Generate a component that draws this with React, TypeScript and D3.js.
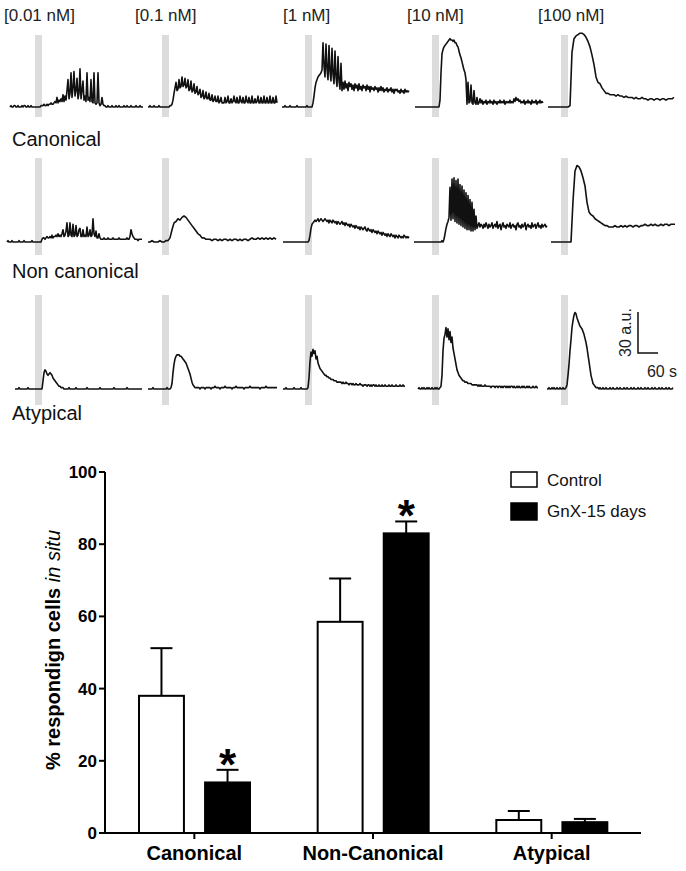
import * as d3 from "d3";

// ---- top panel: Ca2+ traces, 3 response classes x 5 concentrations ----
const concentrations = ["[0.01 nM]", "[0.1 nM]", "[1 nM]", "[10 nM]", "[100 nM]"];
const traceClasses = ["Canonical", "Non canonical", "Atypical"];
const stimulusWindow = [0, 21]; // s, application (gray bar)
const scaleAmplitude = 30; // a.u.
const scaleTime = 60; // s

// fluorescence (a.u.) sampled every traceSteps s, starting at traceStarts s
const canonical001 = [
  0, 1, 0, 0, 1, 1, 0, 0, 1, 0, 0, 0, 1, 0, 1, 1, 0, 0, 1, 0, 0, 1, 0, 0, 0,
  0, 0, 0, 0, 0, 0, 1, 1, 1, 2, 1, 1, 2, 1, 2, 2, 3, 2, 2, 3,
  4, 3, 7, 3, 5, 4, 6, 4, 9, 4, 8, 5, 12, 20, 6, 10, 25, 7, 14, 26, 8, 12, 21, 6, 10, 28, 6, 12, 19, 5, 8, 4, 25, 5, 7, 4, 20, 4, 3, 25, 3, 2, 3, 25, 3, 1, 2, 7, 2, 1,
  1, 0, 0, 1, 0, 0, 0, 1, 0, 0, 0, 1, 0, 0, 1, 0, 0, 0, 0, 1, 0, 0, 1, 0, 0, 0, 1, 0, 0, 0, 0, 1, 0, 0, 0, 1, 0, 0, 0,
];
const canonical01 = [
  0, 0, 1, 0, 0, 0, 1, 0, 0, 0, 0, 1, 0, 0, 0, 0, 0, 0, 0, 0, 0, 0, 1, 1, 2,
  5, 10, 14, 18, 12, 13, 20, 14, 15, 22, 15, 16, 21, 14, 15, 20, 12, 13, 19, 11, 12, 17, 10, 11, 15,
  9, 10, 13, 7, 8, 12, 6, 7, 11, 6, 6, 10, 5, 5, 9, 4, 5, 8, 4, 4, 8, 3, 4, 7, 3,
  3, 3, 7, 3, 4, 8, 3, 3, 6, 3, 4, 8, 4, 3, 7, 3, 3, 8, 4, 3, 7, 3, 3, 8, 4, 3, 7, 3, 3, 8, 3, 3, 6, 3, 4, 8, 3, 3, 7, 3, 3, 8, 3, 3, 7, 3, 3, 8, 3, 3, 7, 3, 3, 8, 3,
];
const canonical1 = [
  0, 0, 0, 1, 0, 0, 0, 0, 1, 0, 0, 0, 0, 0, 0, 1, 0, 0, 0, 0, 0, 0, 0, 0, 0, 1, 0, 0, 0, 0, 0,
  3, 8, 14, 18, 20, 22, 23, 24, 25, 27,
  47, 30, 22, 46, 28, 20, 45, 26, 19, 43, 24, 17, 41, 22, 15, 37, 19, 13, 32, 12,
  18, 13, 19, 14, 17, 12, 18, 15, 17, 13, 16, 12, 17, 14, 16, 12, 17, 13, 15, 12, 16, 14, 15, 12, 16, 13, 15, 11, 15, 13,
  14, 12, 15, 13, 14, 11, 14, 12, 15, 12, 14, 11, 13, 12, 14, 11, 13, 12, 14, 11, 13, 10, 13, 12, 13, 11, 12, 10, 13, 11,
  12, 10, 13, 11, 12, 11, 12,
];
const canonical10 = [
  0, 0, 0, 0, 0, 0, 0, 0, 0, 0, 0, 0, 0, 0, 0, 0, 0, 0, 0, 0, 0, 0, 0, 0, 0,
  5, 25, 39, 42, 44, 45, 46, 47, 48, 49, 50, 49, 49,
  48, 49, 47, 47, 45, 44, 41, 38, 36, 33, 30, 27, 25, 20,
  2, 18, 3, 4, 16, 3, 2, 12, 3, 2, 7, 2, 3, 6,
  3, 5, 2, 4, 3, 5, 2, 4, 3, 5, 3, 4, 2, 5, 3, 4, 2, 4, 3, 5, 3, 4, 3, 5, 2, 4, 3, 4, 3, 5, 3, 4, 3, 6, 4, 7, 5, 6, 4, 5,
  3, 4, 3, 5, 2, 4, 3, 5, 3, 4, 2, 5, 3, 4, 3, 5, 2, 4, 3, 5, 3, 4, 3,
];
const canonical100 = [
  0, 0, 0, 0, 0, 0, 0, 0, 0, 0, 0, 1,
  40, 50, 52, 53, 54, 54, 53, 51, 48, 44, 38, 31, 22, 18, 17, 14, 12, 10, 10, 9, 9, 9, 8, 9, 8, 8, 7, 8, 7, 7,
  7, 6, 7, 6, 6, 7, 6, 6, 5, 6, 6, 5, 6, 6, 5, 6, 6, 5, 6, 6, 6, 7,
];
const nonCanonical001 = [
  0, 1, 0, 0, 0, 1, 0, 0, 0, 0, 0, 0, 1, 0, 0, 0, 0, 1, 0, 0, 0, 0, 0, 0, 0, 1, 0, 0, 0, 0, 0, 0, 0, 0, 0,
  2, 3, 3, 2, 3, 4, 3, 3, 4, 3, 5, 3, 4, 4, 5, 4, 6, 4, 5,
  4, 6, 9, 4, 5, 8, 14, 4, 5, 14, 5, 4, 13, 4, 5, 12, 4, 5, 9, 10, 4, 4, 9, 4, 5, 4, 11, 4, 5, 9, 4, 5, 17, 6, 4, 8, 3, 3, 6, 3, 2,
  2, 2, 3, 2, 2, 2, 3, 2, 2, 2, 2, 3, 2, 2, 2, 2, 2, 3, 2, 2, 2, 2, 2, 2, 2, 3, 2, 2, 4, 9, 6, 4, 3, 2, 2, 2, 1, 2, 2, 2, 2,
];
const nonCanonical01 = [
  0, 0, 1, 0, 0, 0, 1, 0, 0, 1, 1,
  3, 9, 14, 15, 17, 16, 18, 19, 18, 16, 14, 12, 10, 8, 6, 5, 3, 3, 2, 2, 2, 1, 2,
  2, 1, 2, 1, 2, 2, 1, 2, 1, 2, 2, 1, 2, 1, 2, 2, 1, 2, 3, 2, 2, 3, 2, 3, 2, 3, 2, 3, 2, 3, 2,
];
const nonCanonical1 = [
  0, 0, 0, 0, 0, 0, 0, 0, 0, 0, 0, 0, 0, 0, 0, 0, 0, 0, 0, 0, 0, 0, 0, 0, 0, 0, 1,
  5, 10, 13, 14, 15, 16, 15, 16, 17, 15, 16, 17, 16, 15, 16, 17,
  16, 15, 16, 14, 16, 15, 14, 16, 15, 14, 15, 13, 15, 14, 13, 14, 15, 13, 14, 12, 14, 13, 12, 13, 11, 13, 12, 11, 12, 10,
  12, 11, 10, 11, 9, 11, 10, 9, 10, 11, 9, 8, 10, 9, 8, 9, 7, 9, 8, 7, 8, 6, 8, 7, 6, 7, 5, 7, 6, 5,
  6, 4, 6, 5, 4, 6, 5, 4, 5, 3, 5, 4, 3, 5, 4, 3, 4, 3, 5, 4, 3, 4, 3, 4,
];
const nonCanonical10 = [
  0, 0, 0, 0, 0, 0, 0, 0, 0, 0, 0, 0, 0, 0, 0, 0, 0, 0, 0, 0, 0, 0, 0, 0, 0, 0, 0, 0,
  1, 0, 2, 6, 10, 13, 15, 18,
  40, 16, 46, 17, 47, 15, 45, 14, 46, 13, 42, 12, 41, 11, 38, 10, 36, 9, 34, 9, 31, 8, 29, 8, 24, 9, 19, 10,
  12, 14, 11, 13, 12, 10, 13, 11, 14, 12, 10, 13, 11, 12, 14, 10, 12, 13, 11, 15, 10, 12, 13, 9, 12, 14, 11, 12, 10, 13,
  12, 11, 14, 10, 12, 13, 11, 12, 9, 13, 14, 11, 12, 10, 13, 11, 12, 14, 9, 12, 13, 11, 12, 10, 14, 11, 12, 13, 10, 12,
  14, 11, 12, 10, 13, 11, 12, 13, 11, 12,
];
const nonCanonical100 = [
  0, 0, 0, 0, 0, 0, 0, 0, 0, 0, 0,
  30, 52, 56, 55, 52, 47, 41, 29, 22, 20, 19, 17, 16, 15, 14, 13, 12, 12, 11, 11,
  11, 12, 11, 11, 12, 11, 12, 11, 12, 12, 11, 12, 12, 11, 12, 12, 13, 12, 12, 13, 12, 13, 12, 12, 13, 12, 13, 13, 12, 13, 13, 13,
];
const atypical001 = [
  0, 0, 0, 0, 1, 0, 0, 0, 0, 0, 0, 0, 0, 1, 0, 0, 0, 0, 0, 0, 0, 0, 0, 0, 0, 0, 0, 0,
  6, 12, 14, 13, 11, 10, 11, 12, 11, 10, 8, 7, 6, 5, 4, 3, 2, 2, 1, 1, 1, 0, 0,
  0, 0, 0, 1, 0, 0, 0, 0, 0, 0, 1, 0, 0, 0, 0, 0, 0, 0, 0, 0, 0, 1, 0, 0, 0, 0, 0, 0, 0, 0, 0, 0, 0, 0, 1, 0, 0, 0, 0,
  0, 0, 0, 0, 0, 0, 0, 0, 0, 1, 0, 0, 0, 0, 0, 0, 0, 0, 0, 0, 0, 0, 1, 0, 0, 0, 0, 0, 0, 0, 0, 0, 0, 0, 0, 0, 0, 0,
];
const atypical01 = [
  0, 0, 0, 0, 0, 1, 0, 0, 0, 0, 0, 0, 0, 0, 0, 0, 0, 0, 0, 1, 0, 0, 0, 1,
  4, 12, 18, 22, 24, 25, 25, 25, 24, 24, 23, 22, 21, 20, 19, 17, 15, 13, 11, 8, 5, 3, 2, 1, 1, 1,
  1, 1, 0, 1, 1, 1, 1, 0, 1, 1, 1, 1, 1, 0, 1, 1, 1, 2, 1, 1, 1, 1, 0, 1, 1, 1, 1, 2, 1, 1, 1, 1, 1, 1, 0, 1, 1, 1, 2, 1,
  1, 1, 1, 1, 1, 1, 0, 1, 1, 1, 1, 1, 2, 1, 1, 1, 1, 1, 1, 1, 1, 1, 0, 1, 1, 1, 1, 1, 2, 1, 1, 1, 1, 1, 1, 1, 1, 1, 1, 1,
];
const atypical1 = [
  0, 0, 0, 1, 0, 0, 0, 0, 0, 0, 0, 1, 0, 0, 0, 0, 0, 0, 1, 0, 0, 0, 0, 0, 0, 1,
  8, 20, 27, 24, 29, 26, 28, 22, 24, 19, 17, 15,
  14, 13, 12, 11, 10, 10, 9, 9, 8, 8, 7, 7, 7, 6, 6, 6, 5, 5, 5, 5,
  5, 4, 5, 4, 4, 5, 4, 4, 3, 4, 4, 3, 4, 3, 3, 4, 3, 3, 3, 4, 3, 3, 2, 3, 3, 3, 2, 3, 3, 2, 3, 2, 3, 3, 2, 3, 2, 2, 3, 2,
  2, 3, 2, 2, 3, 2, 2, 2, 3, 2, 2, 3, 2, 2, 2, 3, 2, 2, 2, 3, 2, 2, 3, 2, 2,
];
const atypical10 = [
  0, 1, 0, 0, 1, 0, 1, 0, 0, 1, 0, 1, 0, 0, 1, 0, 0, 1, 0, 1, 0, 0, 1, 2,
  10, 28, 37, 40, 45, 38, 44, 36, 42, 34, 38, 30, 26, 22, 18, 14, 12, 10, 9, 8, 7,
  6, 6, 5, 5, 5, 4, 4, 4, 4, 3, 3, 3, 3, 3, 3, 2, 3, 2, 3, 2, 2, 2, 3, 2, 2, 2, 2, 2, 1, 2, 2, 2, 1, 2, 2, 1, 2, 2, 1, 2,
  1, 2, 2, 1, 2, 1, 2, 1, 2, 2, 1, 2, 1, 1, 2, 1, 2, 1, 1, 2, 1, 2, 1, 1, 2, 1, 2, 1, 1, 1, 2, 1, 1, 2, 1, 1,
];
const atypical100 = [
  0, 0, 1, 0, 0, 1, 0, 1, 0, 0, 1, 0, 0, 1, 0, 0, 1, 0, 0, 1,
  3, 10, 18, 28, 36, 45, 50, 54, 56, 55, 52, 50, 48, 46, 45, 44, 42, 40, 37, 34, 30, 25, 20, 15, 10, 7, 4, 3, 2, 1, 1, 1, 0, 1, 0,
  0, 1, 0, 0, 1, 0, 0, 0, 1, 0, 0, 1, 0, 0, 0, 1, 0, 0, 1, 0, 0, 0, 1, 0, 0, 1, 0, 0, 0, 1, 0, 0, 1, 0, 0, 0,
  1, 0, 0, 1, 0, 0, 0, 1, 0, 0, 1, 0, 0, 0, 1, 0, 0, 1, 0, 0, 0, 1, 0, 0, 1, 0, 0, 0, 1, 0, 0, 1, 0, 0, 0, 1,
];
const traceRows = [
  [canonical001, canonical01, canonical1, canonical10, canonical100],
  [nonCanonical001, nonCanonical01, nonCanonical1, nonCanonical10, nonCanonical100],
  [atypical001, atypical01, atypical1, atypical10, atypical100],
];
const traceStarts = [
  [-75, -42, -69, -51, -39],
  [-84, -42, -66, -54, -30],
  [-60, -42, -66, -42, -42],
];
const traceSteps = [
  [3, 3, 3, 3, 6],
  [3, 6, 3, 3, 6],
  [3, 3, 3, 3, 3],
];

// ---- bottom panel: % responding cells ----
const categories = ["Canonical", "Non-Canonical", "Atypical"];
const groups = ["Control", "GnX-15 days"];
const controlMean = [38, 58.5, 3.6];
const controlSem = [13.2, 12, 2.5];
const gnxMean = [14, 83, 3];
const gnxSem = [3.5, 3.3, 0.9];
const significant = [true, true, false];
const yTicks = [0, 20, 40, 60, 80, 100];

const FONT = "'Liberation Sans', Arial, Helvetica, sans-serif";

export default function App() {
  // trace layout
  const colStimX = [35, 162, 305, 432, 561];
  const labelShift = [-31, -27, -22, -25, -23];
  const rowBaseY = [107, 242, 389];
  const rowGrayTop = [35, 158, 295];
  const rowGrayBottom = [117, 255, 405];
  const rowLabelY = [146, 278, 420];

  const xTrace = (c: number) =>
    d3.scaleLinear().domain([0, 390]).range([colStimX[c], colStimX[c] + 130]);
  const yTrace = (r: number) =>
    d3.scaleLinear().domain([0, 30]).range([rowBaseY[r], rowBaseY[r] - 41]);

  // bar chart layout
  const y = d3.scaleLinear().domain([0, 100]).range([833, 472]);
  const x0 = d3.scaleBand().domain(categories).range([105, 641]);
  const x1 = d3.scaleBand().domain(groups).range([34, 145]).paddingInner(0.32);
  const bw = x1.bandwidth();

  const sbX = 638;
  const sbY = 353;
  const ys3 = yTrace(2);
  const xs5 = xTrace(4);
  const sbH = ys3(0) - ys3(scaleAmplitude);
  const sbW = xs5(scaleTime) - xs5(0);

  const bars = categories.flatMap((cat, i) => [
    { cat, g: groups[0], v: controlMean[i], e: controlSem[i], fill: "#fff", star: false },
    { cat, g: groups[1], v: gnxMean[i], e: gnxSem[i], fill: "#000", star: significant[i] },
  ]);

  return (
    <>
      <style>{`body{margin:0}`}</style>
      <svg width={686} height={871} style={{ display: "block", background: "#fff" }} fontFamily={FONT}>
        {concentrations.map((lab, c) => (
          <text key={lab} x={colStimX[c] + labelShift[c]} y={21} fontSize={17} fill="#222">
            {lab}
          </text>
        ))}

        {traceRows.map((row, r) => (
          <g key={r}>
            {row.map((vals, c) => {
              const xs = xTrace(c);
              const ys = yTrace(r);
              const t0 = traceStarts[r][c];
              const st = traceSteps[r][c];
              const line = d3
                .line<number>()
                .x((_, i) => xs(t0 + i * st))
                .y((v) => ys(v));
              return (
                <g key={c}>
                  <rect
                    x={xs(stimulusWindow[0])}
                    y={rowGrayTop[r]}
                    width={xs(stimulusWindow[1]) - xs(stimulusWindow[0])}
                    height={rowGrayBottom[r] - rowGrayTop[r]}
                    fill="#dcdcdc"
                  />
                  <path d={line(vals) || ""} fill="none" stroke="#111" strokeWidth={1.6} strokeLinejoin="round" />
                </g>
              );
            })}
            <text x={12} y={rowLabelY[r]} fontSize={20} fill="#111">
              {traceClasses[r]}
            </text>
          </g>
        ))}

        {/* scale bar */}
        <path d={`M${sbX},${sbY - sbH}V${sbY}H${sbX + sbW}`} fill="none" stroke="#111" strokeWidth={1.5} />
        <text transform={`translate(${sbX - 7},${sbY - sbH / 2}) rotate(-90)`} textAnchor="middle" fontSize={16} fill="#222">
          {`${scaleAmplitude} a.u.`}
        </text>
        <text x={sbX + sbW + 4} y={sbY + 24} textAnchor="middle" fontSize={16} fill="#222">
          {`${scaleTime} s`}
        </text>

        {/* bar chart */}
        {bars.map((b, i) => {
          const bx = (x0(b.cat) ?? 0) + (x1(b.g) ?? 0);
          const cx = bx + bw / 2;
          const top = y(b.v);
          const cap = y(b.v + b.e);
          return (
            <g key={i}>
              <line x1={cx} x2={cx} y1={top} y2={cap} stroke="#000" strokeWidth={2} />
              <line x1={cx - 11} x2={cx + 11} y1={cap} y2={cap} stroke="#000" strokeWidth={2} />
              <rect x={bx} y={top} width={bw} height={y(0) - top} fill={b.fill} stroke="#000" strokeWidth={2} />
              {b.star && (
                <text x={cx} y={cap + 10} textAnchor="middle" fontSize={44} fontWeight="bold">
                  *
                </text>
              )}
            </g>
          );
        })}

        {/* axes */}
        <line x1={105} x2={105} y1={y(100)} y2={y(0)} stroke="#000" strokeWidth={2} />
        <line x1={104} x2={641} y1={y(0)} y2={y(0)} stroke="#000" strokeWidth={2} />
        {yTicks.map((t) => (
          <g key={t}>
            <line x1={99} x2={105} y1={y(t)} y2={y(t)} stroke="#000" strokeWidth={2} />
            <text x={97} y={y(t)} dy="0.35em" textAnchor="end" fontSize={17} fontWeight="bold">
              {t}
            </text>
          </g>
        ))}
        {categories.map((cat) => {
          const cx = (x0(cat) ?? 0) + x0.bandwidth() / 2;
          return (
            <g key={cat}>
              <line x1={cx} x2={cx} y1={y(0)} y2={y(0) + 6} stroke="#000" strokeWidth={2} />
              <text x={cx} y={860} textAnchor="middle" fontSize={20} fontWeight="bold">
                {cat}
              </text>
            </g>
          );
        })}
        <text transform={`translate(60,650) rotate(-90)`} textAnchor="middle" fontSize={20}>
          <tspan fontWeight="bold">% respondign cells </tspan>
          <tspan fontStyle="italic">in situ</tspan>
        </text>

        {/* legend */}
        {groups.map((g, i) => (
          <g key={g} transform={`translate(511,${472 + i * 31})`}>
            <rect x={0} y={0} width={26} height={i === 0 ? 15 : 17} fill={i === 0 ? "#fff" : "#000"} stroke="#000" strokeWidth={1.5} />
            <text x={36} y={8} dy="0.35em" fontSize={17} fill="#111">
              {g}
            </text>
          </g>
        ))}
      </svg>
    </>
  );
}
